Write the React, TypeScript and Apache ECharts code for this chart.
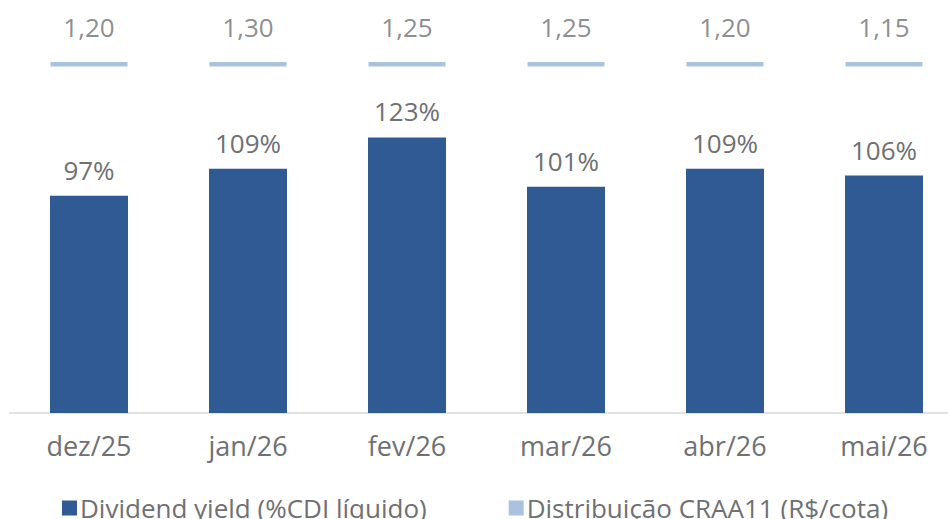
import React, { useEffect, useRef } from "react";
import * as echarts from "echarts";

const categories = ["dez/25", "jan/26", "fev/26", "mar/26", "abr/26", "mai/26"];
const dividendYield = [97, 109, 123, 101, 109, 106];
const distribuicao = [1.2, 1.3, 1.25, 1.25, 1.2, 1.15];

const FONT = "'Open Sans', 'Noto Sans', sans-serif";
const GREY = "#6f7073";
const DARK = "#2f5a94";
const LIGHT = "#95b3d7";

export default function App() {
  const ref = useRef<HTMLDivElement>(null);
  useEffect(() => {
    if (!ref.current) return;
    const chart = echarts.init(ref.current, undefined, { renderer: "svg" });
    chart.setOption({
      animation: false,
      backgroundColor: "#ffffff",
      textStyle: { fontFamily: FONT },
      legend: {
        left: 57,
        top: 490,
        itemWidth: 15,
        itemHeight: 15,
        itemGap: 82,
        icon: "rect",
        textStyle: { fontFamily: FONT, fontSize: 26, color: GREY, padding: [0, 0, 0, -2] },
        data: [
          { name: "Dividend yield (%CDI líquido)", itemStyle: { color: DARK } },
          { name: "Distribuição CRAA11 (R$/cota)", itemStyle: { color: LIGHT } },
        ],
      },
      grid: [
        { left: 9.5, width: 954, top: 99.4, height: 313.6 },
        { left: 9.5, width: 954, top: 0, height: 80 },
      ],
      xAxis: [
        {
          type: "category",
          gridIndex: 0,
          data: categories,
          axisTick: { show: false },
          axisLine: { lineStyle: { color: "#d9d9d9", width: 1.5 } },
          axisLabel: { color: GREY, fontSize: 27, fontFamily: FONT, margin: 19 },
        },
        {
          type: "category",
          gridIndex: 1,
          data: categories,
          show: false,
        },
      ],
      yAxis: [
        { type: "value", gridIndex: 0, min: 0, max: 140, show: false, splitLine: { show: false } },
        { type: "value", gridIndex: 1, min: 0, max: 80, show: false, inverse: true, splitLine: { show: false } },
      ],
      series: [
        {
          name: "Dividend yield (%CDI líquido)",
          type: "bar",
          xAxisIndex: 0,
          yAxisIndex: 0,
          data: dividendYield,
          barWidth: 78,
          itemStyle: { color: DARK },
          label: {
            show: true,
            position: "top",
            distance: 13,
            color: GREY,
            fontSize: 26,
            fontFamily: FONT,
            formatter: (p: any) => `${p.value}%`,
          },
        },
        {
          name: "Distribuição CRAA11 (R$/cota)",
          type: "scatter",
          xAxisIndex: 1,
          yAxisIndex: 1,
          data: distribuicao.map(() => 64.3),
          symbol: "rect",
          symbolSize: [77, 4.5],
          itemStyle: { color: LIGHT },
          label: {
            show: true,
            position: "top",
            distance: 22,
            color: GREY,
            fontSize: 26,
            fontFamily: FONT,
            formatter: (p: any) => distribuicao[p.dataIndex].toFixed(2).replace(".", ","),
          },
        },
      ],
    });
    return () => chart.dispose();
  }, []);
  return (
    <div style={{ width: 948, height: 519, position: "absolute", left: 0, top: 0, overflow: "hidden" }}>
      <div ref={ref} style={{ width: 970, height: 519 }} />
    </div>
  );
}
